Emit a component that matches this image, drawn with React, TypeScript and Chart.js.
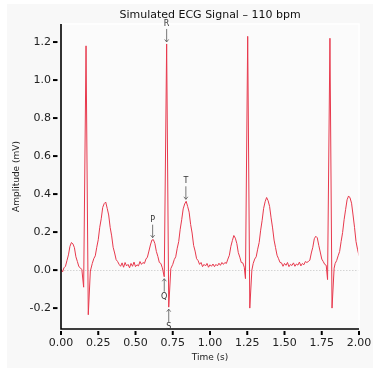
import React, { useEffect, useRef } from 'react';
import { Chart, registerables } from 'chart.js';

Chart.register(...registerables);

// Time (s) of each sample
const timeS = [
  0.00, 0.01, 0.02, 0.03, 0.04, 0.05, 0.06, 0.07, 0.08, 0.09, 0.10, 0.11, 0.12, 0.13, 0.14,
  0.152, 0.168, 0.183, 0.197,
  0.21, 0.22, 0.23, 0.24, 0.25, 0.26, 0.27, 0.28, 0.29, 0.30, 0.31, 0.32, 0.33, 0.34, 0.35, 0.36, 0.37, 0.38, 0.39,
  0.40, 0.41, 0.42, 0.43, 0.44, 0.45, 0.46, 0.47, 0.48, 0.49, 0.50, 0.51, 0.52, 0.53, 0.54, 0.55,
  0.56, 0.57, 0.58, 0.59, 0.60, 0.61, 0.62, 0.63, 0.64, 0.65, 0.66, 0.67, 0.68,
  0.693, 0.709, 0.723, 0.737,
  0.75, 0.76, 0.77, 0.78, 0.79, 0.80, 0.81, 0.82, 0.83, 0.84, 0.85, 0.86, 0.87, 0.88, 0.89, 0.90, 0.91, 0.92,
  0.93, 0.94, 0.95, 0.96, 0.97, 0.98, 0.99, 1.00, 1.01, 1.02, 1.03, 1.04, 1.05, 1.06, 1.07, 1.08, 1.09,
  1.10, 1.11, 1.12, 1.13, 1.14, 1.15, 1.16, 1.17, 1.18, 1.19, 1.20, 1.21, 1.22, 1.23,
  1.238, 1.253, 1.267, 1.281,
  1.29, 1.30, 1.31, 1.32, 1.33, 1.34, 1.35, 1.36, 1.37, 1.38, 1.39, 1.40, 1.41, 1.42, 1.43, 1.44, 1.45, 1.46, 1.47,
  1.48, 1.49, 1.50, 1.51, 1.52, 1.53, 1.54, 1.55, 1.56, 1.57, 1.58, 1.59, 1.60, 1.61, 1.62, 1.63, 1.64,
  1.65, 1.66, 1.67, 1.68, 1.69, 1.70, 1.71, 1.72, 1.73, 1.74, 1.75, 1.76, 1.77, 1.78,
  1.789, 1.805, 1.819, 1.833,
  1.84, 1.85, 1.86, 1.87, 1.88, 1.89, 1.90, 1.91, 1.92, 1.93, 1.94, 1.95, 1.96, 1.97, 1.98, 1.99, 2.00,
];

// Amplitude (mV) of each sample
const ampMv = [
  0.005, -0.01, 0.012, 0.02, 0.05, 0.08, 0.125, 0.145, 0.138, 0.118, 0.07, 0.045, 0.018, 0.012, 0.002,
  -0.09, 1.18, -0.235, -0.005,
  0.035, 0.06, 0.075, 0.12, 0.16, 0.225, 0.27, 0.33, 0.35, 0.358, 0.325, 0.29, 0.225, 0.18, 0.12, 0.09, 0.055, 0.045, 0.03,
  0.02, 0.038, 0.015, 0.04, 0.022, 0.03, 0.012, 0.035, 0.02, 0.042, 0.018, 0.028, 0.022, 0.045, 0.03, 0.04,
  0.035, 0.058, 0.068, 0.1, 0.132, 0.158, 0.16, 0.14, 0.098, 0.072, 0.04, 0.035, 0.012,
  -0.035, 1.19, -0.195, 0.008,
  0.03, 0.055, 0.07, 0.115, 0.15, 0.215, 0.265, 0.322, 0.348, 0.362, 0.335, 0.305, 0.24, 0.195, 0.13, 0.1, 0.06, 0.05,
  0.03, 0.04, 0.018, 0.03, 0.022, 0.035, 0.015, 0.028, 0.02, 0.032, 0.018, 0.03, 0.022, 0.036, 0.025, 0.04, 0.03,
  0.04, 0.035, 0.058, 0.078, 0.125, 0.155, 0.182, 0.168, 0.14, 0.092, 0.068, 0.04, 0.038, 0.015,
  -0.045, 1.23, -0.2, 0.0,
  0.035, 0.058, 0.07, 0.11, 0.145, 0.21, 0.262, 0.325, 0.36, 0.382, 0.365, 0.335, 0.275, 0.222, 0.158, 0.118, 0.078, 0.06, 0.04,
  0.038, 0.02, 0.035, 0.025, 0.04, 0.018, 0.03, 0.024, 0.038, 0.02, 0.032, 0.026, 0.042, 0.022, 0.035, 0.028, 0.045,
  0.04, 0.045, 0.052, 0.09, 0.12, 0.165, 0.178, 0.17, 0.13, 0.095, 0.058, 0.045, 0.03, 0.025,
  -0.05, 1.22, -0.2, 0.01,
  0.035, 0.05, 0.075, 0.098, 0.15, 0.198, 0.265, 0.318, 0.37, 0.39, 0.38, 0.352, 0.29, 0.225, 0.15, 0.11, 0.075,
];

const xTickValues = [0, 0.25, 0.5, 0.75, 1.0, 1.25, 1.5, 1.75, 2.0];
const yTickValues = [-0.2, 0.0, 0.2, 0.4, 0.6, 0.8, 1.0, 1.2];

// Labelled waves of the second beat
const waveLabels = ['P', 'Q', 'R', 'S', 'T'];
const waveTimes = [0.615, 0.693, 0.709, 0.723, 0.838];
const waveAmps = [0.16, -0.035, 1.19, -0.195, 0.362];
const waveAbove = [true, false, true, false, true];

const TITLE = 'Simulated ECG Signal – 110 bpm';
const FONT = '"DejaVu Sans", sans-serif';

export default function App() {
  const canvasRef = useRef<HTMLCanvasElement>(null);

  useEffect(() => {
    const canvas = canvasRef.current;
    if (!canvas) return;

    const decor = {
      id: 'decor',
      beforeDraw(chart: any) {
        const { ctx, width, height, chartArea: a } = chart;
        ctx.save();
        ctx.fillStyle = '#ffffff';
        ctx.fillRect(0, 0, width, height);
        ctx.fillStyle = '#f8f8f8';
        ctx.fillRect(7, 4, width - 7, height - 4);
        ctx.fillStyle = '#fbfbfb';
        ctx.fillRect(a.left, a.top, a.right - a.left, a.bottom - a.top);
        ctx.restore();
      },
      beforeDatasetsDraw(chart: any) {
        const { ctx, chartArea: a, scales } = chart;
        const y0 = scales.y.getPixelForValue(0);
        ctx.save();
        ctx.strokeStyle = '#d4d4d4';
        ctx.lineWidth = 1;
        ctx.setLineDash([1.5, 1.5]);
        ctx.beginPath();
        ctx.moveTo(a.left, Math.round(y0) + 0.5);
        ctx.lineTo(a.right, Math.round(y0) + 0.5);
        ctx.stroke();
        ctx.restore();
      },
      afterDatasetsDraw(chart: any) {
        const { ctx, chartArea: a, scales } = chart;
        const xs = scales.x;
        const ys = scales.y;
        ctx.save();
        // white top/right frame
        ctx.strokeStyle = '#ffffff';
        ctx.lineWidth = 1.5;
        ctx.beginPath();
        ctx.moveTo(a.left, a.top);
        ctx.lineTo(a.right, a.top);
        ctx.lineTo(a.right, a.bottom);
        ctx.stroke();
        // spines
        ctx.strokeStyle = '#000000';
        ctx.lineWidth = 1.6;
        ctx.beginPath();
        ctx.moveTo(a.left, a.top);
        ctx.lineTo(a.left, a.bottom);
        ctx.lineTo(a.right, a.bottom);
        ctx.stroke();
        // tick marks
        ctx.lineWidth = 2;
        yTickValues.forEach((v) => {
          const py = ys.getPixelForValue(v);
          ctx.beginPath();
          ctx.moveTo(a.left - 8, py);
          ctx.lineTo(a.left - 3.5, py);
          ctx.stroke();
        });
        xTickValues.forEach((v) => {
          const px = xs.getPixelForValue(v);
          ctx.beginPath();
          ctx.moveTo(px, a.bottom + 2);
          ctx.lineTo(px, a.bottom + 6);
          ctx.stroke();
        });
        // annotations
        ctx.font = '8px ' + FONT;
        ctx.textAlign = 'center';
        ctx.textBaseline = 'middle';
        waveLabels.forEach((lab, i) => {
          const px = xs.getPixelForValue(waveTimes[i]);
          const py = ys.getPixelForValue(waveAmps[i]);
          const dir = waveAbove[i] ? -1 : 1;
          const ty = py + dir * 20;
          const tipY = py + dir * 2;
          ctx.fillStyle = '#333333';
          ctx.fillText(lab, px, ty);
          ctx.strokeStyle = '#555555';
          ctx.lineWidth = 0.8;
          ctx.beginPath();
          ctx.moveTo(px, ty - dir * 5);
          ctx.lineTo(px, tipY);
          ctx.stroke();
          ctx.beginPath();
          ctx.moveTo(px - 2, tipY + dir * 2.5);
          ctx.lineTo(px, tipY);
          ctx.lineTo(px + 2, tipY + dir * 2.5);
          ctx.stroke();
        });
        // title
        ctx.font = '11px ' + FONT;
        ctx.fillStyle = '#111111';
        ctx.fillText(TITLE, (a.left + a.right) / 2, 15);
        ctx.restore();
      },
    };

    const chart = new Chart(canvas, {
      type: 'line',
      data: {
        datasets: [
          {
            data: timeS.map((t, i) => ({ x: t, y: ampMv[i] })),
            borderColor: '#e8394d',
            borderWidth: 1,
            pointRadius: 0,
            tension: 0,
            fill: false,
          },
        ],
      },
      options: {
        responsive: false,
        animation: false,
        layout: { padding: { top: 24, right: 14, bottom: 0, left: 0 } },
        plugins: {
          legend: { display: false },
          title: { display: false },
          tooltip: { enabled: false },
        },
        scales: {
          x: {
            type: 'linear',
            min: 0,
            max: 2,
            grid: { display: false, drawTicks: false },
            border: { display: false },
            afterFit: (s: any) => {
              s.height = 39;
              s.paddingLeft = 0;
              s.paddingRight = 0;
            },
            afterBuildTicks: (s: any) => { s.ticks = xTickValues.map((v) => ({ value: v })); },
            ticks: {
              padding: 8,
              color: '#222222',
              font: { family: FONT, size: 11 },
              callback: (v: any) => Number(v).toFixed(2),
              maxRotation: 0,
            },
            title: {
              display: true,
              text: 'Time (s)',
              color: '#222222',
              font: { family: FONT, size: 9 },
              padding: { top: 0, bottom: 4.6 },
            },
          },
          y: {
            type: 'linear',
            min: -0.31,
            max: 1.295,
            grid: { display: false, drawTicks: false },
            border: { display: false },
            afterFit: (s: any) => {
              s.width = 61;
              s.paddingTop = 0;
              s.paddingBottom = 0;
            },
            afterBuildTicks: (s: any) => { s.ticks = yTickValues.map((v) => ({ value: v })); },
            ticks: {
              padding: 10,
              color: '#222222',
              font: { family: FONT, size: 11 },
              callback: (v: any) => Number(v).toFixed(1),
            },
            title: {
              display: true,
              text: 'Amplitude (mV)',
              color: '#222222',
              font: { family: FONT, size: 9 },
              padding: { top: 11.6, bottom: 0 },
            },
          },
        },
      },
      plugins: [decor],
    });

    return () => chart.destroy();
  }, []);

  return (
    <div style={{ position: 'absolute', left: 0, top: 0, width: 373, height: 368 }}>
      <canvas ref={canvasRef} width={373} height={368} style={{ display: 'block', width: 373, height: 368 }} />
    </div>
  );
}
